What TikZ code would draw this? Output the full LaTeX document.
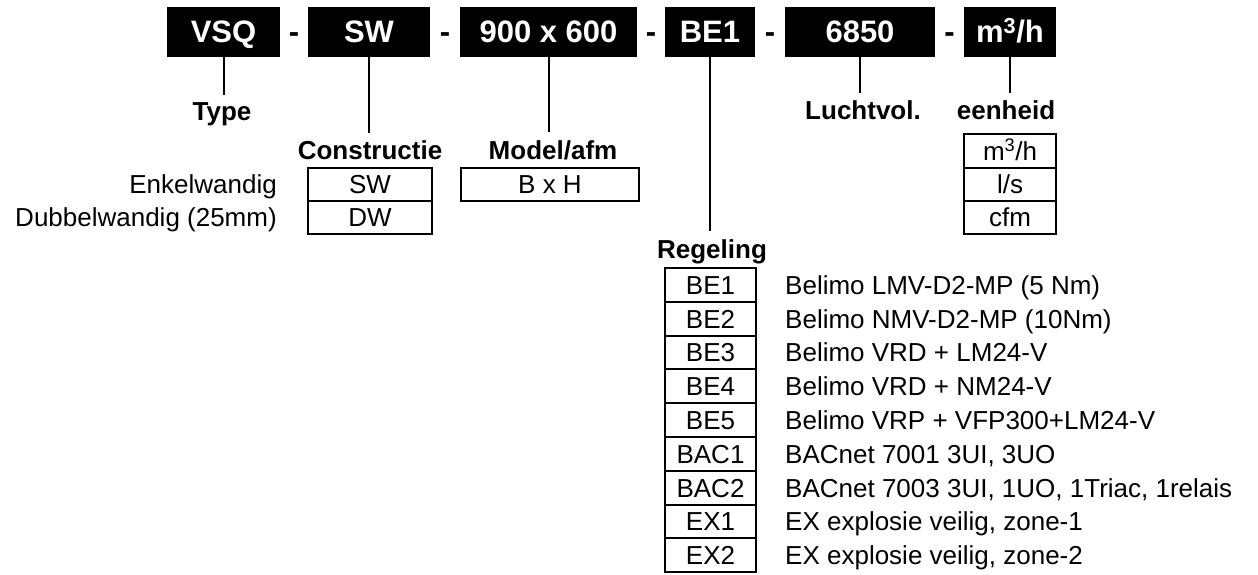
\documentclass[tikz,border=0pt]{standalone}
\usepackage{fontspec}
\setmainfont{Liberation Sans}
\usetikzlibrary{positioning,calc}
\tikzset{
  codebox/.style={fill=black,text=white,font=\fontsize{31}{36}\selectfont\bfseries,
    minimum width=#1,minimum height=50pt,inner sep=0pt,text height=22pt,text depth=0pt},
  dashsym/.style={font=\fontsize{31}{36}\selectfont\bfseries,inner sep=0pt,anchor=base},
  head/.style={font=\fontsize{26}{30}\selectfont\bfseries,inner sep=0pt,anchor=base},
  cell/.style={draw,line width=2pt,outer sep=0pt,minimum width=#1,minimum height=33pt,
    inner sep=0pt,text height=18.6pt,text depth=0pt,font=\fontsize{26}{30}\selectfont},
  cell/.default=91pt,
  desc/.style={font=\fontsize{26}{30}\selectfont,inner sep=0pt},
  leader/.style={line width=2pt,shorten >=8pt},
}
\begin{document}
\begin{tikzpicture}[x=1pt,y=-1pt]
  \useasboundingbox (0,0) rectangle (1258,575);
  % code line
  \foreach \nm/\x/\w/\txt in {vsq/223.5/113/VSQ,sw/369/122/SW,afm/548.5/177/900 x 600,
    reg/710/90/BE1,vol/860/150/6850,unit/1010/92/{m\textsuperscript{3}/h}}
    \node[codebox=\w pt] (\nm) at (\x,32) {\txt};
  \foreach \a/\b in {vsq/sw,sw/afm,afm/reg,reg/vol,vol/unit}
    \node[dashsym] (d\a) at ($(\a.base east)!0.5!(\b.base west)$) {-};
  % headings
  \node[head] (typ) at (222,121) {Type};
  \node[head] (con) at (370,160) {Constructie};
  \node[head] (mod) at (553,159) {Model/afm};
  \node[head] (rgl) at (712,258) {Regeling};
  \node[head] (lvol) at (863,120) {Luchtvol.};
  \node[head] (eenh) at (1006,120) {eenheid};
  \foreach \a/\b in {vsq/typ,sw/con,afm/mod,reg/rgl,vol/lvol,unit/eenh}
    \draw[leader] (\a.south) -- (\a.south |- \b.north);
  % constructie
  \node[cell=124pt] (sw1) at (370,184) {SW};
  \node[cell=124pt,below=0pt of sw1] (dw1) {DW};
  \node[desc,left=31pt of sw1.base west,anchor=base east] (enk) {Enkelwandig};
  \node[desc,left=31pt of dw1.base west,anchor=base east] (dub) {Dubbelwandig (25mm)};
  % model
  \node[cell=178pt] (bxh) at (550,184) {B x H};
  % eenheid
  \node[cell=92pt] (u1) at (1010,151) {m\textsuperscript{3}/h};
  \node[cell=92pt,below=0pt of u1] (u2) {l/s};
  \node[cell=92pt,below=0pt of u2] (u3) {cfm};
  % regeling
  \foreach \cd/\txt [count=\i] in {BE1/{Belimo LMV-D2-MP (5 Nm)},BE2/{Belimo NMV-D2-MP (10Nm)},
    BE3/{Belimo VRD + LM24-V},BE4/{Belimo VRD + NM24-V},BE5/{Belimo VRP + VFP300+LM24-V},
    BAC1/{BACnet 7001 3UI, 3UO},BAC2/{BACnet 7003 3UI, 1UO, 1Triac, 1relais},
    EX1/{EX explosie veilig, zone-1},EX2/{EX explosie veilig, zone-2}}{
    \node[cell,minimum height=33.8pt] (r\i) at (710.5,{251.1+33.8*\i}) {\cd};
    \node[desc,right=29pt of r\i.base east,anchor=base west] (t\i) {\txt};
  }
\end{tikzpicture}
\end{document}
